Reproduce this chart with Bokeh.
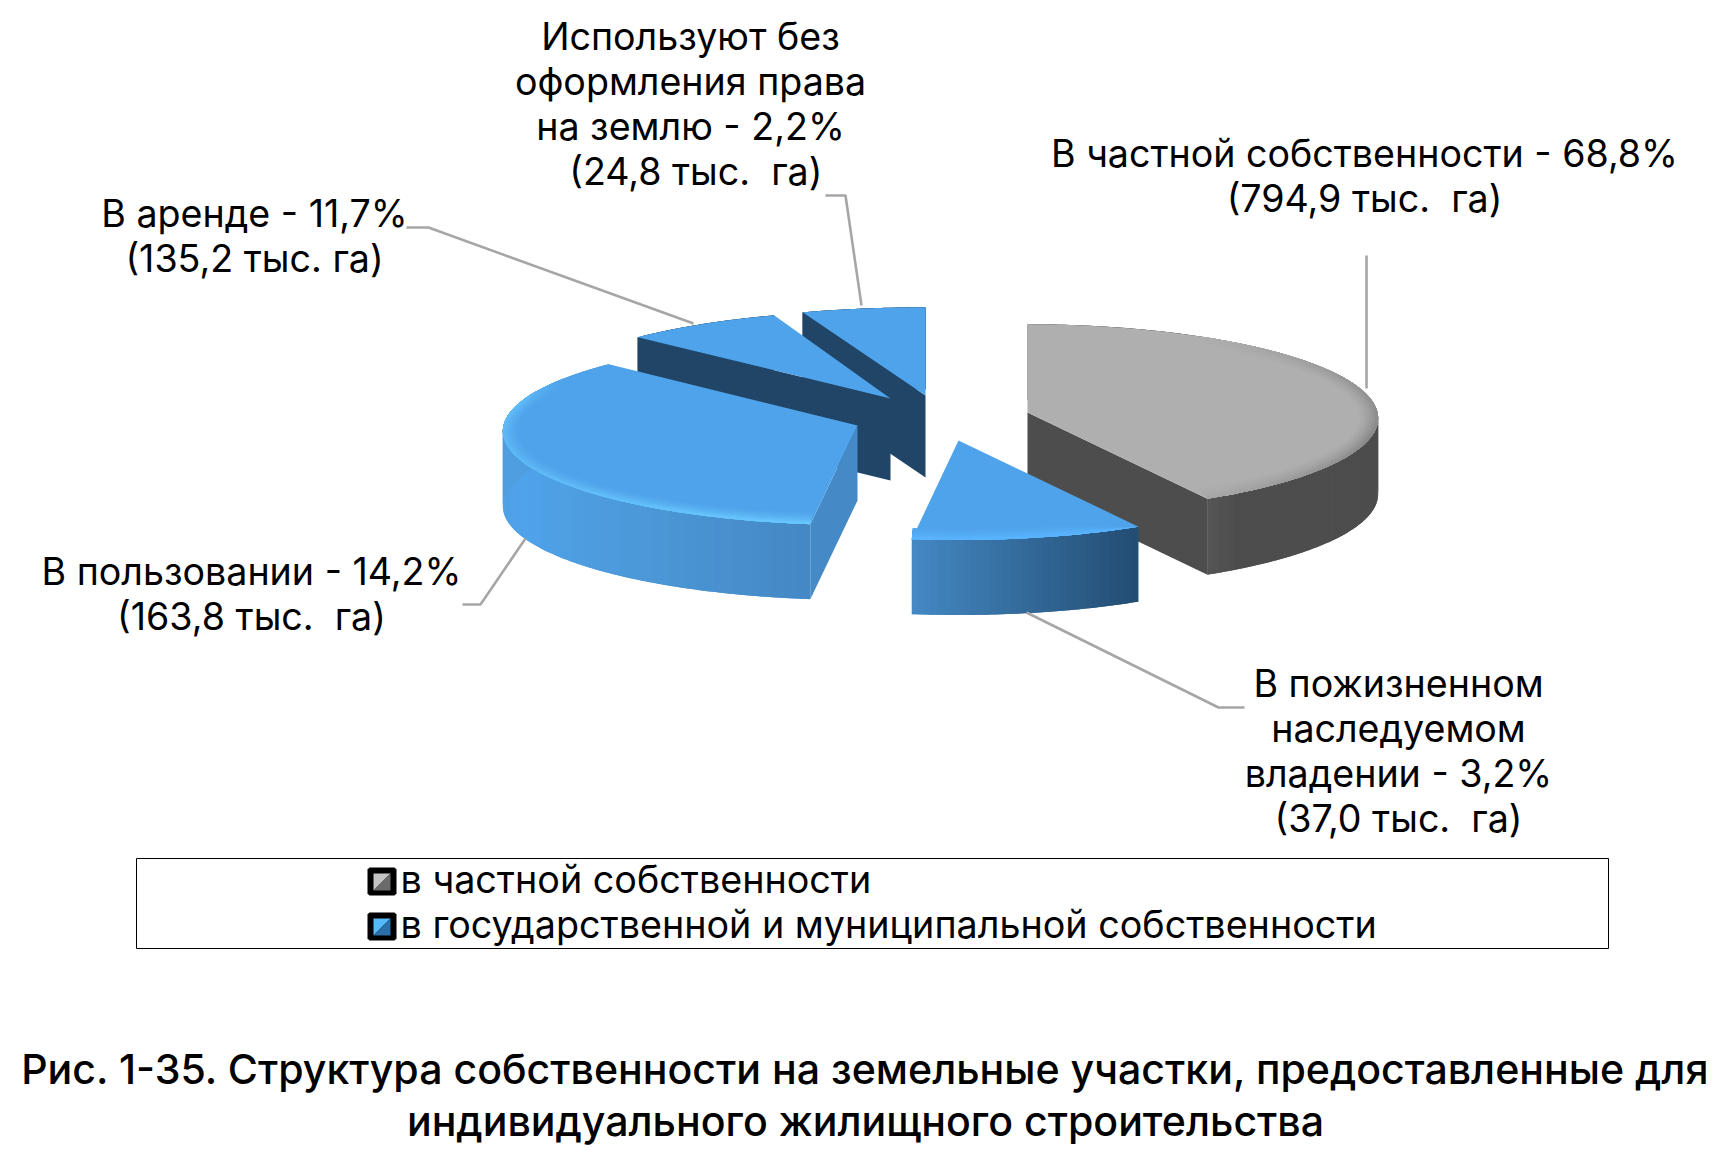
import numpy as np
from bokeh.plotting import figure
from bokeh.models import ColumnDataSource, Range1d
from bokeh.core.properties import value
from bokeh.embed import file_html
from bokeh.resources import INLINE

# ---- data -----------------------------------------------------------------
categories = ["в частной собственности", "в пожизненном наследуемом владении",
              "в пользовании", "в аренде", "без оформления права"]
# shares of the circle as drawn in the picture (per cent)
drawn_share = [41.9, 10.1, 34.95, 7.5, 5.55]
label_lines = [
    ["В частной собственности - 68,8%", "(794,9 тыс.  га)"],
    ["В пожизненном", "наследуемом", "владении - 3,2%", "(37,0 тыс.  га)"],
    ["В пользовании - 14,2%", "(163,8 тыс.  га)"],
    ["В аренде - 11,7%", "(135,2 тыс. га)"],
    ["Используют без", "оформления права", "на землю - 2,2%", "\u00a0(24,8 тыс.  га)"],
]
legend_labels = ["в частной собственности", "в государственной и муниципальной собственности"]
title_lines = ["Рис. 1-35. Структура собственности на земельные участки, предоставленные для",
               "индивидуального жилищного строительства"]

# ---- layout / style -------------------------------------------------------
W, H = 1712, 1150
FONT = "Inter"
LABEL_SIZE = "37.6px"
LINE_H = 45
apex = [(1027, 412), (958, 440), (857, 425), (890, 398), (925, 395)]
heights = [76, 75, 75, 82, 82]
RXS = [350, 350, 354, 360, 380]
RY, PERSP = 93.5, 0.06
top_col = ["#AFAFAF", "#4FA3EA", "#4FA3EA", "#4FA3EA", "#4FA3EA"]
cut_col = ["#4D4D4D", None, "#4589C7", "#204567", "#204567"]
wall_stops = [
    [(90, "#4D4D4D"), (145, "#4D4D4D"), (151, "#555555")],
    [(151, "#234C72"), (170, "#336A9A"), (187, "#4488C4")],
    [(187, "#4488C4"), (215, "#4C98D8"), (245, "#4FA3EA"), (270, "#4F9FE0"), (313, "#4F9FE0")],
    [(313, "#204567"), (340, "#204567")],
    [(340, "#204567"), (360, "#204567")],
]
rim_col = ["#858585", "#5BB6FF", "#6CCBFF", None, None]
rim_inner = [(0.94, 0.86), (0.98, 0.87), (0.95, 0.87), None, None]
label_anchor = [(1364, 153), (1398, 683), (251, 571), (254, 213), (690, 36)]
leader_x = [[1366, 1366], [1026, 1218, 1244], [462, 480, 525], [406, 428, 693], [825, 845, 861]]
leader_y = [[255, 388], [612, 707, 707], [604, 604, 538], [227, 227, 323], [195, 195, 305]]


def hex2rgb(c):
    return np.array([int(c[i:i + 2], 16) for i in (1, 3, 5)], float)


def rgb2hex(a):
    return "#%02x%02x%02x" % tuple(int(round(v)) for v in a)


def stop_color(stops, th):
    xs = [s[0] for s in stops]
    cs = np.array([hex2rgb(s[1]) for s in stops])
    return rgb2hex([np.interp(th, xs, cs[:, i]) for i in range(3)])


def proj(i, th, fu=1.0, fv=1.0):
    """Perspective projection of a rim point of slice i, angle clockwise from 12 o'clock."""
    t = np.radians(th)
    u, v = np.sin(t), np.cos(t)
    d = 1 + PERSP * v
    return apex[i][0] + RXS[i] * fu * u / d, apex[i][1] - RY * fv * v / d


def rim_strength(i, th):
    if i == 0:
        return np.interp(th, [30, 75, 105, 135, 153], [0, 0.7, 1, 0.5, 0.15])
    if i == 1:
        return 1.0
    if i == 2:
        return np.interp(th, [187, 215, 250, 285, 300], [1, 0.8, 0.55, 0.7, 0])
    return 0


def rim_taper(i, th, a):
    # the band of the small front slice thins out towards its right-hand corner
    if i == 1:
        return np.interp(th, [a, a + 12], [0.0, 1.0])
    return 1.0


edges = np.concatenate([[0], np.cumsum(drawn_share)]) * 3.6
edges[-1] = 360

p = figure(width=W, height=H, output_backend="svg", toolbar_location=None,
           x_range=Range1d(0, W), y_range=Range1d(H, 0),
           min_border=0, outline_line_color=None)
p.axis.visible = False
p.grid.visible = False

xs, ys, cols = [], [], []


def add(px, py, c):
    xs.append(list(px))
    ys.append(list(py))
    cols.append(c)


for i in [4, 3, 2, 0, 1]:
    a, b = edges[i], edges[i + 1]
    h = heights[i]
    ax, ay = apex[i]
    # outer wall as overlapping strips, coloured along the angle
    n = max(int((b - a) * 1.0), 2)
    ths = np.linspace(a, b, n + 1)
    for k in range(n):
        t0, t1 = ths[k], ths[min(k + 2, n)]
        sub = np.linspace(t0, t1, 4)
        tp = [proj(i, t) for t in sub]
        px = [q[0] for q in tp]
        py = [q[1] for q in tp]
        add(px + px[::-1], py + [v + h for v in py[::-1]], stop_color(wall_stops[i], (ths[k] + ths[k + 1]) / 2))
    # cut face that looks towards the viewer
    if cut_col[i]:
        th = b if i == 0 else a
        x0, y0 = proj(i, th)
        add([ax, x0, x0, ax], [ay, y0, y0 + h, ay + h], cut_col[i])
    # top surface
    ths = np.linspace(a, b, 120)
    px, py = zip(*[proj(i, t) for t in ths])
    add([ax] + list(px), [ay] + list(py), top_col[i])
    # bevel along the rim: bands from the inside out, each reaching the outer rim
    if rim_col[i]:
        fu, fv = rim_inner[i]
        n = max(int((b - a) * 0.8), 2)
        ths = np.linspace(a, b, n + 1)
        nb = 7
        for j in range(nb):
            f0 = j / nb
            sh = (j + 0.5) / nb
            for k in range(n):
                st = rim_strength(i, (ths[k] + ths[k + 1]) / 2) * sh ** 1.5
                if st < 0.02:
                    continue
                t0, t1 = ths[k], ths[min(k + 2, n)]
                c = hex2rgb(top_col[i]) * (1 - st) + hex2rgb(rim_col[i]) * st
                sub = np.linspace(t0, t1, 3)
                inner = []
                for t in sub:
                    tp = rim_taper(i, t, a)
                    iu = 1 - (1 - fu) * (1 - f0) * tp
                    iv = 1 - (1 - fv) * (1 - f0) * tp
                    inner.append(proj(i, t, iu, iv))
                outer = [proj(i, t) for t in sub]
                add([q[0] for q in inner] + [q[0] for q in outer[::-1]],
                    [q[1] for q in inner] + [q[1] for q in outer[::-1]], rgb2hex(c))

src = ColumnDataSource(dict(xs=xs, ys=ys, c=cols))
p.patches("xs", "ys", source=src, fill_color="c", line_color=None)

for lx, ly in zip(leader_x, leader_y):
    p.line(lx, ly, line_color="#A6A6A6", line_width=2.6)

tx, ty, tt = [], [], []
for (cx, cy), lines in zip(label_anchor, label_lines):
    for j, s in enumerate(lines):
        tx.append(cx)
        ty.append(cy + j * LINE_H)
        tt.append(s.replace("  ", " \u00a0"))
p.text(tx, ty, tt, text_font=value(FONT), text_font_size=LABEL_SIZE, text_color="#000000",
       text_align="center", text_baseline="middle")

# legend
p.quad(left=[136], right=[1608], top=[858], bottom=[948], fill_color="white", line_color="black", line_width=1)
leg_y = [881, 926]
leg_light = ["#C4C4C4", "#55B8F8"]
leg_dark = ["#6B6B6B", "#2A6FA8"]
for yc, s, cl, cd in zip(leg_y, legend_labels, leg_light, leg_dark):
    x0, x1, y0, y1 = 367, 396, yc - 14, yc + 14
    p.patch([x0 + 2, x1 - 2, x1, x1, x1 - 2, x0 + 2, x0, x0], [y0, y0, y0 + 2, y1 - 2, y1, y1, y1 - 2, y0 + 2],
            fill_color="black", line_color=None)
    p.patch([373, 390, 373], [yc - 8, yc - 8, yc + 9], fill_color=cl, line_color=None)
    p.patch([390, 390, 373], [yc - 8, yc + 9, yc + 9], fill_color=cd, line_color=None)
    p.text([400], [yc - 2.5], [s], text_font=value(FONT), text_font_size="37.7px", text_color="#000000",
           text_align="left", text_baseline="middle")

p.text([865, 865], [1068, 1120], title_lines, text_font=value("Inter Medium"), text_font_size="41.1px",
       text_color="#000000", text_align="center", text_baseline="middle")

open("out.html", "w").write(file_html(p, INLINE))
